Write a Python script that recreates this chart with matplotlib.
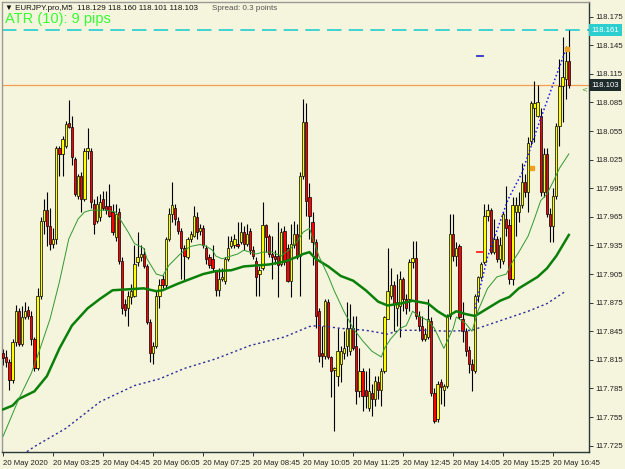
import numpy as np
import matplotlib.pyplot as plt

##EURJPY.pro M5 candles, prices (bar 0 .. 181)
opens = [117.822, 117.818, 117.813, 117.794, 117.834, 117.866, 117.832, 117.860, 117.867, 117.861,
         117.837, 117.806, 117.882, 117.961, 117.972, 117.955, 117.937, 117.942, 118.037, 118.031,
         118.039, 118.063, 118.059, 118.026, 117.987, 118.008, 117.984, 118.034, 118.034, 117.979,
         117.961, 117.965, 117.984, 117.976, 117.976, 117.970, 117.944, 117.970, 117.919, 117.874,
         117.869, 117.881, 117.882, 117.918, 117.923, 117.926, 117.913, 117.855, 117.822, 117.830,
         117.882, 117.900, 117.893, 117.942, 117.968, 117.974, 117.961, 117.950, 117.932, 117.923,
         117.942, 117.945, 117.965, 117.950, 117.953, 117.932, 117.923, 117.921, 117.908, 117.888,
         117.900, 117.898, 117.921, 117.934, 117.935, 117.937, 117.939, 117.949, 117.937, 117.950,
         117.930, 117.919, 117.905, 117.911, 117.956, 117.945, 117.926, 117.924, 117.924, 117.916,
         117.950, 117.932, 117.898, 117.935, 117.947, 117.924, 118.008, 118.065, 117.986, 117.960,
         117.939, 117.866, 117.822, 117.819, 117.876, 117.818, 117.804, 117.798, 117.811, 117.822,
         117.829, 117.824, 117.848, 117.830, 117.782, 117.803, 117.783, 117.764, 117.780, 117.774,
         117.792, 117.783, 117.803, 117.858, 117.882, 117.893, 117.869, 117.871, 117.900, 117.879,
         117.879, 117.918, 117.922, 117.861, 117.851, 117.837, 117.839, 117.856, 117.780, 117.753,
         117.792, 117.783, 117.788, 117.861, 117.947, 117.924, 117.934, 117.858, 117.845, 117.825,
         117.811, 117.803, 117.882, 117.902, 117.918, 117.966, 117.972, 117.928, 117.942, 117.921,
         117.919, 117.963, 117.956, 117.900, 117.970, 117.970, 117.977, 118.002, 117.991, 118.045,
         118.079, 118.071, 118.071, 117.991, 118.031, 117.968, 117.955, 117.987, 118.060, 118.102,
         118.110, 118.129]
highs = [117.826, 117.825, 117.816, 117.837, 117.873, 117.869, 117.872, 117.876, 117.872, 117.866,
         117.839, 117.890, 117.965, 117.984, 117.991, 117.974, 117.953, 118.039, 118.039, 118.050,
         118.066, 118.088, 118.071, 118.028, 118.010, 118.012, 118.037, 118.058, 118.037, 117.984,
         117.987, 117.989, 117.992, 117.992, 117.999, 117.979, 117.979, 117.974, 117.923, 117.879,
         117.887, 117.895, 117.935, 117.949, 117.935, 117.932, 117.916, 117.858, 117.834, 117.887,
         117.900, 117.904, 117.944, 117.974, 118.002, 117.979, 117.965, 117.953, 117.935, 117.944,
         117.950, 117.976, 117.970, 117.958, 117.956, 117.935, 117.926, 117.935, 117.909, 117.911,
         117.911, 117.923, 117.945, 117.945, 117.947, 117.960, 117.960, 117.955, 117.958, 117.953,
         117.934, 117.923, 117.913, 117.981, 117.958, 117.947, 117.945, 117.930, 117.960, 117.953,
         117.955, 117.937, 117.958, 117.961, 117.958, 118.012, 118.089, 118.084, 118.000, 117.970,
         117.942, 117.869, 117.851, 117.879, 117.879, 117.819, 117.808, 117.848, 117.830, 117.845,
         117.876, 117.874, 117.861, 117.861, 117.827, 117.806, 117.803, 117.806, 117.790, 117.798,
         117.798, 117.806, 117.861, 117.932, 117.911, 117.898, 117.905, 117.908, 117.902, 117.884,
         117.921, 117.940, 117.940, 117.866, 117.861, 117.848, 117.879, 117.860, 117.785, 117.793,
         117.795, 117.790, 117.863, 117.968, 117.968, 117.939, 117.937, 117.876, 117.848, 117.829,
         117.816, 117.884, 117.903, 117.918, 117.979, 117.979, 117.974, 117.963, 117.945, 117.944,
         117.970, 117.997, 117.963, 117.986, 117.986, 117.991, 118.021, 118.010, 118.049, 118.087,
         118.107, 118.103, 118.079, 118.037, 118.037, 117.974, 117.995, 118.063, 118.131, 118.154,
         118.144, 118.161]
lows = [117.810, 117.808, 117.783, 117.791, 117.830, 117.829, 117.829, 117.858, 117.858, 117.831,
        117.803, 117.804, 117.879, 117.947, 117.934, 117.930, 117.932, 117.937, 118.008, 118.008,
        118.037, 118.058, 118.019, 117.987, 117.984, 117.970, 117.982, 118.026, 117.974, 117.947,
        117.959, 117.961, 117.972, 117.968, 117.965, 117.946, 117.940, 117.916, 117.863, 117.861,
        117.851, 117.874, 117.881, 117.913, 117.919, 117.911, 117.853, 117.813, 117.811, 117.827,
        117.869, 117.890, 117.890, 117.940, 117.960, 117.956, 117.947, 117.900, 117.898, 117.921,
        117.939, 117.944, 117.942, 117.946, 117.932, 117.916, 117.911, 117.908, 117.882, 117.882,
        117.898, 117.895, 117.919, 117.932, 117.932, 117.932, 117.937, 117.930, 117.934, 117.926,
        117.921, 117.882, 117.882, 117.909, 117.928, 117.923, 117.900, 117.916, 117.881, 117.913,
        117.914, 117.897, 117.881, 117.932, 117.921, 117.882, 118.005, 117.966, 117.942, 117.914,
        117.848, 117.813, 117.808, 117.816, 117.816, 117.776, 117.740, 117.788, 117.792, 117.816,
        117.819, 117.820, 117.825, 117.769, 117.776, 117.761, 117.764, 117.761, 117.756, 117.767,
        117.774, 117.767, 117.801, 117.858, 117.879, 117.845, 117.851, 117.839, 117.866, 117.863,
        117.866, 117.911, 117.858, 117.845, 117.835, 117.835, 117.837, 117.777, 117.749, 117.750,
        117.769, 117.767, 117.785, 117.858, 117.919, 117.913, 117.858, 117.834, 117.819, 117.801,
        117.782, 117.801, 117.876, 117.900, 117.916, 117.961, 117.926, 117.926, 117.918, 117.911,
        117.916, 117.945, 117.895, 117.893, 117.945, 117.960, 117.974, 117.986, 117.970, 118.040,
        118.044, 118.070, 117.987, 117.986, 117.965, 117.939, 117.939, 117.984, 118.039, 118.065,
        118.089, 118.100]
closes = [117.817, 117.813, 117.794, 117.834, 117.866, 117.832, 117.860, 117.866, 117.861, 117.837,
          117.806, 117.882, 117.961, 117.972, 117.955, 117.937, 117.942, 118.037, 118.031, 118.047,
          118.062, 118.059, 118.028, 117.989, 118.008, 117.984, 118.034, 118.037, 117.981, 117.958,
          117.979, 117.981, 117.974, 117.972, 117.966, 117.949, 117.968, 117.919, 117.869, 117.867,
          117.882, 117.887, 117.916, 117.923, 117.926, 117.913, 117.855, 117.822, 117.830, 117.882,
          117.893, 117.893, 117.942, 117.968, 117.977, 117.963, 117.950, 117.932, 117.924, 117.942,
          117.947, 117.966, 117.949, 117.953, 117.935, 117.921, 117.914, 117.911, 117.888, 117.900,
          117.902, 117.921, 117.932, 117.940, 117.942, 117.934, 117.949, 117.937, 117.947, 117.930,
          117.924, 117.902, 117.909, 117.956, 117.944, 117.926, 117.923, 117.921, 117.914, 117.949,
          117.918, 117.898, 117.937, 117.947, 117.923, 118.008, 118.065, 117.982, 117.966, 117.939,
          117.861, 117.819, 117.819, 117.877, 117.818, 117.803, 117.806, 117.824, 117.824, 117.827,
          117.848, 117.848, 117.827, 117.782, 117.803, 117.777, 117.777, 117.782, 117.774, 117.793,
          117.783, 117.803, 117.860, 117.887, 117.893, 117.874, 117.876, 117.900, 117.879, 117.869,
          117.918, 117.922, 117.861, 117.851, 117.837, 117.842, 117.858, 117.780, 117.751, 117.790,
          117.787, 117.788, 117.861, 117.947, 117.924, 117.932, 117.860, 117.845, 117.824, 117.811,
          117.804, 117.882, 117.902, 117.916, 117.966, 117.972, 117.928, 117.942, 117.921, 117.935,
          117.968, 117.953, 117.900, 117.977, 117.977, 117.977, 118.002, 117.991, 118.042, 118.084,
          118.084, 118.086, 117.991, 118.031, 117.968, 117.955, 117.987, 118.060, 118.102, 118.112,
          118.129, 118.103]

##moving averages, (bar, price) points
ma_fast_bar = [0, 5, 9, 11, 15, 18, 21, 24, 26, 28, 33, 36, 40, 42, 45, 46, 49, 51, 53, 56,
               58, 60, 63, 65, 67, 68, 70, 73, 75, 77, 79, 81, 83, 86, 89, 92, 94, 96, 98, 101,
               104, 106, 109, 112, 115, 118, 121, 122, 124, 127, 129, 131, 133, 136, 138, 140, 141, 142, 144, 145,
               148, 150, 152, 155, 158, 161, 163, 165, 168, 170, 172, 174, 176, 178, 181]
ma_fast = [117.735, 117.774, 117.801, 117.819, 117.858, 117.897, 117.942, 117.963, 117.970, 117.972,
           117.972, 117.970, 117.949, 117.937, 117.932, 117.921, 117.905, 117.903, 117.914, 117.924,
           117.930, 117.934, 117.936, 117.934, 117.930, 117.924, 117.921, 117.924, 117.926, 117.930,
           117.928, 117.926, 117.928, 117.928, 117.924, 117.932, 117.939, 117.949, 117.953, 117.924,
           117.903, 117.887, 117.866, 117.848, 117.835, 117.824, 117.818, 117.827, 117.837, 117.848,
           117.851, 117.866, 117.861, 117.856, 117.848, 117.834, 117.827, 117.834, 117.848, 117.860,
           117.853, 117.845, 117.867, 117.890, 117.902, 117.905, 117.918, 117.928, 117.945, 117.963,
           117.982, 117.989, 118.002, 118.016, 118.031]

ma_mid_bar = [0, 3, 5, 10, 14, 18, 22, 27, 31, 35, 40, 45, 49, 51, 56, 60, 64, 68, 73, 77,
              81, 85, 90, 94, 96, 98, 100, 104, 108, 112, 116, 120, 123, 127, 131, 136, 139, 142, 145, 148,
              151, 155, 159, 162, 165, 171, 174, 177, 181]
ma_mid = [117.763, 117.767, 117.774, 117.782, 117.798, 117.827, 117.851, 117.869, 117.879, 117.888,
          117.889, 117.890, 117.887, 117.888, 117.895, 117.900, 117.905, 117.908, 117.909, 117.913,
          117.914, 117.915, 117.918, 117.923, 117.926, 117.928, 117.921, 117.913, 117.903, 117.898,
          117.888, 117.876, 117.872, 117.874, 117.877, 117.874, 117.866, 117.860, 117.866, 117.863,
          117.861, 117.869, 117.877, 117.881, 117.890, 117.902, 117.911, 117.924, 117.946]

ma_slow_bar = [5, 10, 20, 31, 42, 50, 58, 68, 79, 90, 98, 101, 108, 116, 123, 127, 136, 142, 150, 159,
               168, 174, 180]
ma_slow = [117.713, 117.724, 117.743, 117.771, 117.788, 117.795, 117.806, 117.816, 117.830, 117.839,
           117.850, 117.851, 117.848, 117.846, 117.842, 117.846, 117.846, 117.845, 117.846, 117.856,
           117.866, 117.874, 117.887]

trend_bar = [151, 155, 161.5, 166, 171, 176.5, 180]
trend = [117.869, 117.923, 117.983, 118.011, 118.059, 118.109, 118.140]

high_line = 118.161
bid_line = 118.103
sig_bar = [152.5, 152.5]
sig_price = [118.134, 117.928]
sig_col = ['#3030c0', '#ff2020']
dot_bar = [169.3, 180.4]
dot_price = [118.016, 118.141]

time_labels = ['20 May 2020', '20 May 03:25', '20 May 04:45', '20 May 06:05', '20 May 07:25',
               '20 May 08:45', '20 May 10:05', '20 May 11:25', '20 May 12:45', '20 May 14:05',
               '20 May 15:25', '20 May 16:45']

##plot data
bg = '#f5f4dc'
fnt = ['Liberation Sans', 'DejaVu Sans']
o = np.array(opens)
c = np.array(closes)
h = np.array(highs)
l = np.array(lows)
x = np.arange(len(o))
up = c >= o

fig = plt.figure(figsize=(6.25, 4.69), dpi=100, facecolor=bg)
ax = fig.add_axes([2/625, 16.7/469, 587.3/625, 450.3/469], facecolor=bg)

ax.vlines(x, l, h, color='black', lw=0.8, zorder=2)
body = np.maximum(np.abs(c - o), 0.0007)
ax.bar(x[up], body[up], bottom=np.minimum(o, c)[up], width=0.72,
       color='#ffff00', edgecolor='black', lw=0.5, zorder=3)
ax.bar(x[~up], body[~up], bottom=np.minimum(o, c)[~up], width=0.72,
       color='#ff0000', edgecolor='black', lw=0.5, zorder=3)

ax.plot(ma_slow_bar, ma_slow, color='#2b2b9a', lw=1, ls=(0, (1.5, 2)), zorder=4)
ax.plot(ma_mid_bar, ma_mid, color='#0a800a', lw=1.8, zorder=4)
ax.plot(ma_fast_bar, ma_fast, color='#2f9a2f', lw=0.7, zorder=4)
ax.plot(trend_bar, trend, color='#1515f0', lw=1.1, ls=(0, (1, 1.6)), zorder=4)

ax.axhline(high_line, color='#30d0d0', lw=1.3, ls=(0, (8, 4)), zorder=1)
ax.axhline(bid_line, color='#f2a050', lw=0.9, zorder=1)

for b, p, col in zip(sig_bar, sig_price, sig_col):
    ax.plot([b - 1, b + 1], [p, p], color=col, lw=1.3, zorder=4)
ax.plot(dot_bar, dot_price, ls='none', marker='s', ms=2.2, color='#f0a020', zorder=5)

ax.set_xlim(-0.384, 187.55)
ax.set_ylim(117.7180, 118.1904)

yt = np.round(117.725 + 0.03 * np.arange(16), 3)
ax.yaxis.tick_right()
ax.set_yticks(yt)
ax.set_yticklabels(['%.3f' % v for v in yt], family=fnt, fontsize=5.6, color='#222222')
ax.set_xticks(np.arange(len(time_labels)) * 16)
ax.set_xticklabels(time_labels, family=fnt, fontsize=5.6, color='#222222', ha='left')
ax.tick_params(axis='both', direction='out', length=3, width=0.7, color='#333333', pad=1.5)
ax.tick_params(axis='x', pad=2.5)

for s in ['left', 'top']:
    ax.spines[s].set_color('#9a9a9a')
    ax.spines[s].set_linewidth(1)
for s in ['right', 'bottom']:
    ax.spines[s].set_color('#2a3a3a')
    ax.spines[s].set_linewidth(1)

##price boxes on the right axis
ytr = ax.get_yaxis_transform()
ax.text(1.004, high_line, '%.3f' % high_line, transform=ytr, ha='left', va='center', family=fnt,
        fontsize=5.6, color='white', bbox=dict(boxstyle='square,pad=0.3', fc='#2ccfd0', ec='none'))
ax.text(1.004, bid_line, '%.3f' % bid_line, transform=ytr, ha='left', va='center', family=fnt,
        fontsize=5.6, color='white', bbox=dict(boxstyle='square,pad=0.3', fc='#1e2b2b', ec='none'))
ax.text(0.992, bid_line - 0.004, '<', transform=ytr, ha='center', va='center', fontsize=5,
        color='#3c9a3c')

##header texts
fig.text(5/625, 1 - 9/469, '\u25bc EURJPY.pro,M5  118.129 118.160 118.101 118.103', family=fnt,
         fontsize=5.8, color='#111111', ha='left', va='center')
fig.text(212/625, 1 - 9/469, 'Spread: 0.3 points', family=fnt, fontsize=5.8, color='#555555',
         ha='left', va='center')
fig.text(5/625, 1 - 19/469, 'ATR (10): 9 pips', family=fnt, fontsize=10.5, color='#33ff33',
         ha='left', va='center')

fig.savefig('out.png', dpi=100, facecolor=bg)
